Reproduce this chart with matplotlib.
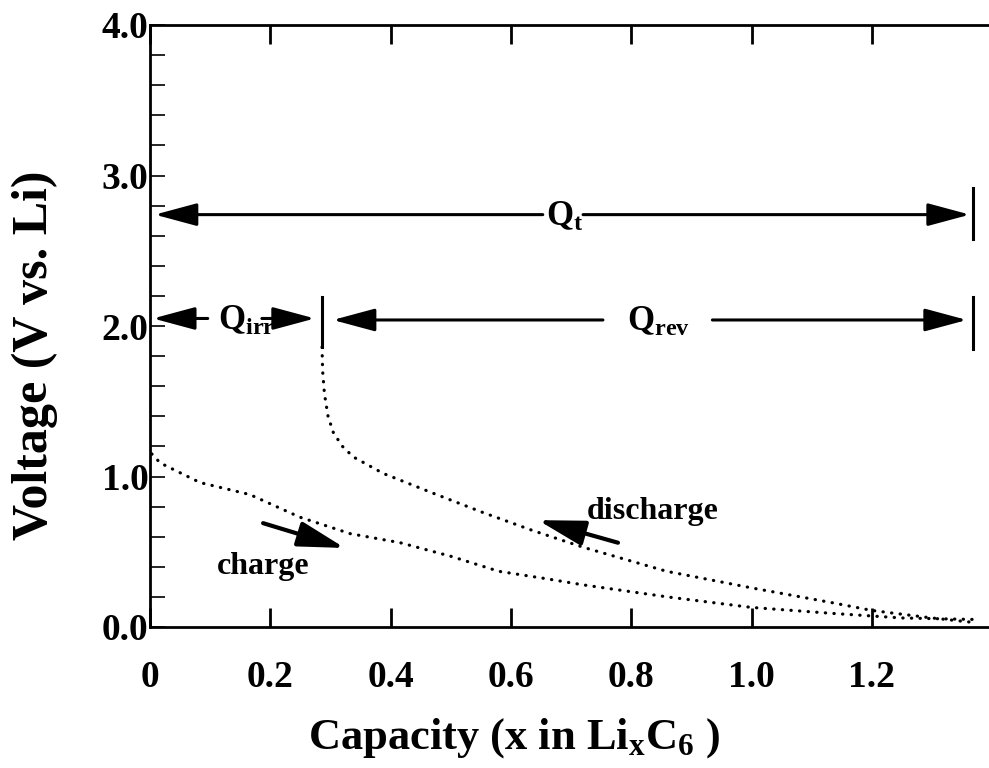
import numpy as np
import matplotlib

matplotlib.use("Agg")
import matplotlib.pyplot as plt
from matplotlib.ticker import MultipleLocator

plt.rcParams["font.family"] = ["Liberation Serif", "DejaVu Serif"]
plt.rcParams["font.weight"] = "bold"
plt.rcParams["axes.labelweight"] = "bold"
plt.rcParams["mathtext.fontset"] = "custom"
plt.rcParams["mathtext.rm"] = "Liberation Serif:bold"
plt.rcParams["mathtext.it"] = "Liberation Serif:bold"
plt.rcParams["mathtext.bf"] = "Liberation Serif:bold"

# --- data: x in LixC6 vs voltage ---
charge_x = [0.003, 0.017, 0.083, 0.166, 0.249, 0.333, 0.416, 0.50, 0.58,
            0.66, 0.72, 0.86, 1.00, 1.136, 1.25, 1.37]
charge_v = [1.15, 1.09, 0.96, 0.88, 0.73, 0.62, 0.56, 0.47, 0.37,
            0.32, 0.28, 0.20, 0.13, 0.09, 0.06, 0.05]

discharge_x = [0.286, 0.287, 0.290, 0.296, 0.305, 0.320, 0.338, 0.388, 0.47,
               0.554, 0.637, 0.72, 0.859, 1.00, 1.136, 1.20, 1.30, 1.37]
discharge_v = [1.86, 1.70, 1.55, 1.40, 1.29, 1.20, 1.13, 1.02, 0.89,
               0.76, 0.64, 0.53, 0.37, 0.26, 0.16, 0.11, 0.06, 0.03]

x_ticks = [0, 0.2, 0.4, 0.6, 0.8, 1.0, 1.2]
x_ticklabels = ["0", "0.2", "0.4", "0.6", "0.8", "1.0", "1.2"]
y_ticks = [0, 1, 2, 3, 4]
y_ticklabels = ["0.0", "1.0", "2.0", "3.0", "4.0"]

q_irr = 0.286      # end of irreversible capacity
q_total = 1.368    # total capacity
y_qt = 2.74
y_qrev = 2.04

fig = plt.figure(figsize=(9.89, 7.68), dpi=100, facecolor="white")
ax = fig.add_axes([150 / 989, 1 - 627 / 768, 839 / 989, 602 / 768])

dot = dict(color="black", lw=2.3, linestyle=(0, (0.1, 2.6)), dash_capstyle="round")
ax.plot(charge_x, charge_v, **dot)
ax.plot(discharge_x, discharge_v, **dot)

# capacity markers
ax.plot([q_irr, q_irr], [1.86, 2.19], color="black", lw=2.2)
ax.plot([q_total, q_total], [1.85, 2.19], color="black", lw=2.2)
ax.plot([q_total, q_total], [2.58, 2.92], color="black", lw=2.2)


def arrow(tail, tip, lw=2.2, scale=20):
    ax.annotate("", xy=tip, xytext=tail,
                arrowprops=dict(arrowstyle="-|>,head_length=1.3,head_width=0.35",
                                lw=lw, color="black", shrinkA=0, shrinkB=0,
                                mutation_scale=scale))


# Q_t
arrow((0.653, y_qt), (0.008, y_qt))
arrow((0.72, y_qt), (1.363, y_qt))
ax.text(0.69, y_qt - 0.075, r"Q$_\mathrm{t}$", fontsize=25, ha="center", va="baseline")

# Q_irr
arrow((0.096, y_qrev + 0.01), (0.005, y_qrev + 0.01))
arrow((0.186, y_qrev + 0.01), (0.274, y_qrev + 0.01))
ax.text(0.16, y_qrev - 0.065, r"Q$_\mathrm{irr}$", fontsize=25, ha="center", va="baseline")

# Q_rev
arrow((0.753, y_qrev), (0.304, y_qrev))
arrow((0.935, y_qrev), (1.358, y_qrev))
ax.text(0.845, y_qrev - 0.075, r"Q$_\mathrm{rev}$", fontsize=25, ha="center", va="baseline")

# charge / discharge labels
arrow((0.188, 0.69), (0.324, 0.525), lw=3, scale=22)
ax.text(0.188, 0.40, "charge", fontsize=23, ha="center", va="center")
arrow((0.778, 0.56), (0.645, 0.71), lw=3, scale=22)
ax.text(0.836, 0.77, "discharge", fontsize=23, ha="center", va="center")

ax.set_xlim(0, 839 / 601.5)
ax.set_ylim(0, 4)
ax.set_xticks(x_ticks)
ax.set_xticklabels(x_ticklabels)
ax.set_yticks(y_ticks)
ax.set_yticklabels(y_ticklabels)
ax.yaxis.set_minor_locator(MultipleLocator(0.2))

ax.spines["right"].set_visible(False)
for s in ["left", "top", "bottom"]:
    ax.spines[s].set_linewidth(2.0)

ax.tick_params(axis="x", which="major", direction="in", length=14, width=2,
               top=True, labelsize=27, pad=24)
ax.tick_params(axis="y", which="both", direction="in", length=11, width=1.2,
               labelsize=27, pad=1)

ax.set_ylabel("Voltage (V vs. Li)", fontsize=36, fontweight="bold")
ax.yaxis.set_label_coords(-0.110, 0.452)
ax.set_xlabel(r"Capacity (x in Li$_\mathrm{x}$C$_\mathrm{6}$ )", fontsize=32,
              fontweight="bold")
ax.xaxis.set_label_coords(0.434, -0.148)

fig.savefig("out.png", dpi=100, facecolor="white")
